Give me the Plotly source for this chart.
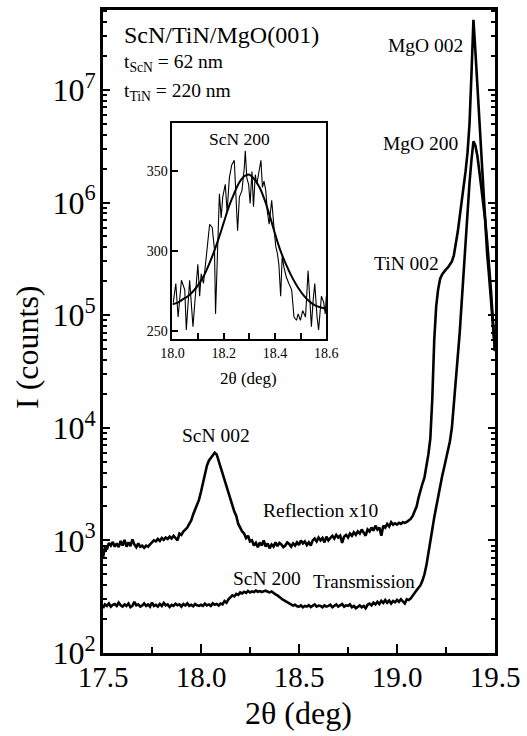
import plotly.graph_objects as go

# ---------------- data ----------------
# main plot: 2theta grid 17.50 .. 19.50, step 0.01
reflection_x10 = [
    700, 880, 830, 950, 900, 970, 880, 940, 870, 990,
    900, 1010, 880, 960, 890, 1020, 920, 870, 940, 880,
    900, 860, 900, 880, 920, 950, 1000, 980, 1030, 990,
    1050, 1010, 1060, 1030, 1080, 1040, 1100, 1050, 1000, 1150,
    1120, 1200, 1250, 1300, 1400, 1500, 1700, 1900, 2100, 2300,
    2700, 3300, 4000, 4600, 5100, 5400, 5700, 6000, 5800, 5100,
    4500, 4000, 3400, 3000, 2600, 2300, 2000, 1800, 1650, 1400,
    1300, 1200, 1150, 1050, 1100, 980, 1000, 900, 950, 870,
    960, 900, 1000, 880, 940, 850, 920, 880, 960, 890,
    950, 920, 870, 900, 960, 930, 880, 940, 900, 960,
    910, 1000, 940, 980, 910, 960, 900, 1000, 1040, 980,
    1060, 1000, 1050, 960, 1080, 1000, 1050, 1100, 1040, 1120,
    1060, 1100, 950, 1080, 1120, 1060, 1150, 1100, 1180, 1120,
    1200, 1150, 1250, 1180, 1100, 1250, 1200, 1300, 1220, 1350,
    1250, 1300, 1100, 1350, 1300, 1400, 1330, 1450, 1380, 1420,
    1380, 1430, 1400, 1450, 1430, 1460, 1500, 1550, 1650, 1800,
    2000, 2400, 2860, 3200, 3600, 4500, 5800, 8000, 18000, 60000,
    1.2e5, 1.7e5, 2.1e5, 2.3e5, 2.45e5, 2.55e5, 2.65e5, 2.8e5, 3.0e5, 3.4e5,
    4.2e5, 5.5e5, 7.5e5, 1.0e6, 1.4e6, 1.9e6, 2.8e6, 5e6, 1.4e7, 4.2e7,
    2.2e7, 1.1e7, 6e6, 2.8e6, 1.3e6, 6e5, 3.5e5, 2.2e5, 1.3e5, 7.5e4, 4.8e4,
]

transmission = [
    250, 270, 262, 275, 258, 268, 272, 262, 280, 265,
    258, 270, 262, 275, 255, 262, 285, 265, 270, 258,
    264, 275, 262, 270, 258, 280, 262, 268, 258, 272,
    262, 278, 265, 270, 256, 268, 262, 274, 265, 270,
    258, 272, 264, 276, 262, 268, 260, 272, 265, 262,
    268, 262, 275, 265, 270, 262, 276, 268, 272, 264,
    275, 270, 290, 280, 300, 310, 325, 318, 335, 328,
    345, 338, 350, 342, 355, 345, 352, 348, 358, 350,
    355, 348, 352, 358, 350, 345, 352, 340, 332, 325,
    312, 305, 296, 290, 282, 276, 270, 264, 268, 260,
    258, 265, 255, 262, 258, 266, 256, 262, 270, 258,
    264, 262, 255, 265, 258, 262, 268, 255, 262, 270, 258,
    264, 272, 258, 265, 262, 270, 255, 262, 250, 258,
    265, 255, 262, 250, 268, 275, 265, 280, 270, 285,
    272, 290, 278, 295, 280, 292, 275, 290, 282, 296,
    285, 300, 288, 275, 300, 295, 305, 320, 340, 360,
    380, 400, 440, 500, 600, 750, 950, 1250, 1600, 2000,
    2500, 3000, 3700, 4400, 5300, 6400, 7600, 1.0e4, 1.6e4, 2.6e4,
    4.2e4, 7e4, 1.3e5, 2.4e5, 5e5, 9e5, 1.5e6, 2.4e6, 3.5e6, 3.2e6,
    2.6e6, 1.9e6, 1.4e6, 1.0e6, 7e5, 4.5e5, 2.8e5, 1.6e5, 8.5e4, 4.8e4,
]

theta = [round(17.5 + 0.01 * i, 2) for i in range(len(reflection_x10))]
theta_t = [round(17.5 + 0.01 * i, 2) for i in range(len(transmission))]

# inset: ScN 200 transmission scan
inset_theta = [
    18.003, 18.013, 18.022, 18.035, 18.048, 18.054, 18.067, 18.080, 18.093, 18.099,
    18.106, 18.112, 18.121, 18.129, 18.138, 18.145, 18.155, 18.164, 18.168, 18.177,
    18.183, 18.190, 18.196, 18.206, 18.213, 18.222, 18.231, 18.241, 18.248, 18.254,
    18.261, 18.271, 18.280, 18.284, 18.290, 18.297, 18.303, 18.310, 18.316, 18.323,
    18.329, 18.338, 18.345, 18.351, 18.357, 18.364, 18.370, 18.377, 18.387, 18.396,
    18.403, 18.409, 18.415, 18.422, 18.428, 18.435, 18.444, 18.454, 18.465, 18.474,
    18.484, 18.490, 18.499, 18.508, 18.519, 18.529, 18.535, 18.542, 18.548, 18.555,
    18.564, 18.570, 18.581, 18.590, 18.596, 18.600,
]
inset_counts = [
    268, 280, 259, 282, 276, 251, 282, 253, 280, 292,
    272, 286, 280, 294, 305, 317, 315, 301, 261, 309,
    336, 321, 334, 342, 325, 346, 354, 357, 330, 313,
    334, 338, 352, 363, 346, 342, 330, 350, 328, 348,
    342, 352, 357, 340, 344, 338, 325, 317, 332, 315,
    303, 299, 292, 272, 297, 290, 284, 280, 276, 259,
    257, 261, 257, 263, 259, 288, 270, 253, 268, 280,
    259, 251, 272, 268, 261, 272,
]
fit_theta = [round(18.0 + 0.02 * i, 2) for i in range(31)]
fit_counts = [
    267, 268, 270, 272, 275, 279, 284, 291, 299, 308,
    318, 328, 336, 343, 347, 348, 345, 340, 332, 322,
    311, 301, 293, 286, 280, 275, 271, 268, 266, 265, 264,
]

x_ticks = [17.5, 18.0, 18.5, 19.0, 19.5]
x_tick_text = ["17.5", "18.0", "18.5", "19.0", "19.5"]
y_ticks = [1e2, 1e3, 1e4, 1e5, 1e6, 1e7]
y_tick_text = ["10<sup>2</sup>", "10<sup>3</sup>", "10<sup>4</sup>",
               "10<sup>5</sup>", "10<sup>6</sup>", "10<sup>7</sup>"]
inset_x_ticks = [18.0, 18.2, 18.4, 18.6]
inset_x_text = ["18.0", "18.2", "18.4", "18.6"]
inset_y_ticks = [250, 300, 350]

# ---------------- figure ----------------
W, H = 527, 736
L, R, T, B = 103, 29, 7, 83
PW, PH = W - L - R, H - T - B
FONT = "Liberation Serif, Times New Roman, serif"


def px(xp):
    return (xp - L) / PW


def py(yp):
    return (H - B - yp) / PH


fig = go.Figure()
line = dict(color="black", width=2.6)
fig.add_trace(go.Scatter(x=theta, y=reflection_x10, mode="lines", line=line,
                         name="Reflection x10", showlegend=False))
fig.add_trace(go.Scatter(x=theta_t, y=transmission, mode="lines", line=line,
                         name="Transmission", showlegend=False))
fig.add_trace(go.Scatter(x=inset_theta, y=inset_counts, mode="lines",
                         line=dict(color="black", width=1.1),
                         xaxis="x2", yaxis="y2", showlegend=False))
fig.add_trace(go.Scatter(x=fit_theta, y=fit_counts, mode="lines",
                         line=dict(color="black", width=2, shape="spline"),
                         xaxis="x2", yaxis="y2", showlegend=False))

minor_y = []
for e in range(2, 8):
    for m in range(2, 10):
        v = m * 10 ** e
        if v < 5.1e7:
            minor_y.append(v)

fig.update_layout(
    width=W, height=H,
    margin=dict(l=L, r=R, t=T, b=B),
    paper_bgcolor="white", plot_bgcolor="white",
    font=dict(family=FONT, color="black"),
    xaxis=dict(
        range=[17.5, 19.5], domain=[0, 1], showgrid=False, zeroline=False,
        showline=True, linecolor="black", linewidth=3, mirror=True,
        ticks="inside", ticklen=9, tickwidth=2, tickcolor="black",
        tickvals=x_ticks, ticktext=x_tick_text, ticklabelstandoff=-4,
        tickfont=dict(size=29, family=FONT),
        minor=dict(tickvals=[17.75, 18.25, 18.75, 19.25], ticks="inside",
                   ticklen=6, tickwidth=2, tickcolor="black", showgrid=False),
    ),
    yaxis=dict(
        type="log", range=[2, 7.71], domain=[0, 1], showgrid=False, zeroline=False,
        showline=True, linecolor="black", linewidth=3, mirror="ticks",
        ticks="inside", ticklen=7, tickwidth=2, tickcolor="black",
        tickvals=y_ticks, ticktext=y_tick_text, ticklabelstandoff=-2,
        tickfont=dict(size=32, family=FONT),
        minor=dict(tickvals=minor_y, ticks="inside", ticklen=4, tickwidth=2,
                   tickcolor="black", showgrid=False),
    ),
    xaxis2=dict(
        domain=[px(173), px(328)], anchor="y2", range=[18.0, 18.6],
        showgrid=False, zeroline=False, showline=True, linecolor="black",
        linewidth=2, mirror=True, ticks="inside", ticklen=6, tickwidth=1.5,
        tickcolor="black", tickvals=inset_x_ticks, ticktext=inset_x_text,
        tickfont=dict(size=14, family=FONT),
        minor=dict(tickvals=[18.1, 18.3, 18.5], ticks="inside", ticklen=6,
                   tickwidth=1.5, tickcolor="black", showgrid=False),
    ),
    yaxis2=dict(
        domain=[py(338), py(121)], anchor="x2", range=[245, 380],
        showgrid=False, zeroline=False, showline=True, linecolor="black",
        linewidth=2, mirror=True, ticks="inside", ticklen=6, tickwidth=2,
        tickcolor="black", tickvals=inset_y_ticks,
        tickfont=dict(size=14, family=FONT),
    ),
)

annots = [
    ("ScN/TiN/MgO(001)", 122, 32, "left", 24, 0),
    ("t<sub>ScN</sub> = 62 nm", 122, 60, "left", 19.5, 0),
    ("t<sub>TiN</sub> = 220 nm", 122, 89, "left", 19.5, 0),
    ("MgO 002", 468, 43, "right", 19.5, 0),
    ("MgO 200", 463, 141, "right", 19.5, 0),
    ("TiN 002", 444, 262, "right", 19.5, 0),
    ("ScN 002", 217, 434, "center", 19.5, 0),
    ("Reflection x10", 322, 510, "center", 19.5, 0),
    ("ScN 200", 268, 578, "center", 19.5, 0),
    ("Transmission", 366, 581, "center", 19, 0),
    ("ScN 200", 241, 137, "center", 17.5, 0),
    ("2θ (deg)", 250, 377, "center", 17, 0),
    ("2θ (deg)", 300, 713, "center", 32, 0),
    ("I (counts)", 27, 346, "center", 32, -90),
]
for text, ax_, ay_, anchor, size, ang in annots:
    fig.add_annotation(text=text, x=px(ax_), y=py(ay_), xref="paper", yref="paper",
                       xanchor=anchor, yanchor="middle", showarrow=False,
                       textangle=ang, font=dict(size=size, family=FONT, color="black"))

fig.write_html("out.html",
               config={"displayModeBar": False},
               post_script="document.body.style.margin='0px';"
                           "document.body.style.overflow='hidden';")
